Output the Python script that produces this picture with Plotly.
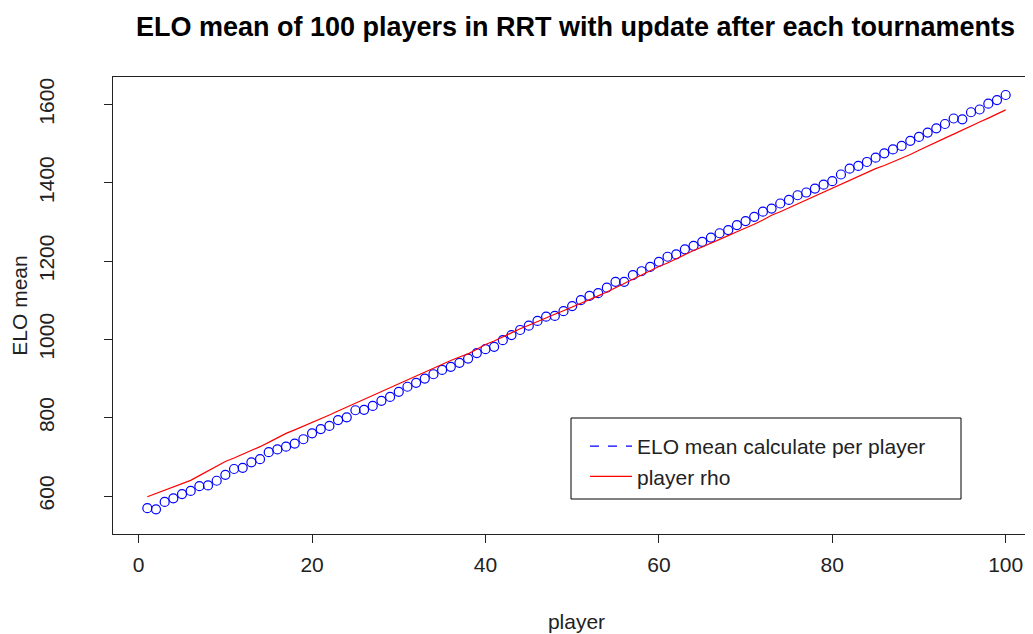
import plotly.graph_objects as go

players = list(range(1, 101))

elo_mean = [
    569, 566, 585, 594, 605, 613, 625, 627, 639, 654,
    669, 672, 686, 694, 712, 719, 726, 734, 745, 760,
    771, 779, 794, 801, 819, 820, 830, 843, 853, 866,
    879, 889, 900, 911, 922, 930, 940, 951, 965, 975,
    981, 998, 1011, 1024, 1035, 1047, 1058, 1060, 1072, 1085,
    1100, 1111, 1118, 1132, 1147, 1147, 1164, 1174, 1185, 1198,
    1211, 1217, 1230, 1239, 1249, 1260, 1271, 1279, 1292, 1302,
    1313, 1326, 1334, 1347, 1356, 1368, 1375, 1385, 1395, 1404,
    1421, 1436, 1443, 1453, 1464, 1475, 1485, 1494, 1507, 1517,
    1528, 1539, 1550, 1564, 1562, 1580, 1587, 1602, 1611, 1624,
]

player_rho = [
    598, 606, 614, 623, 631, 640, 652, 664, 676, 688,
    697, 706, 715, 726, 737, 749, 760, 769, 778, 788,
    797, 807, 817, 827, 836, 846, 857, 866, 876, 887,
    896, 906, 916, 927, 937, 946, 955, 963, 975, 987,
    996, 1007, 1017, 1027, 1036, 1046, 1055, 1064, 1073, 1082,
    1092, 1101, 1111, 1121, 1132, 1143, 1154, 1166, 1176, 1186,
    1195, 1206, 1217, 1227, 1236, 1245, 1255, 1265, 1275, 1284,
    1294, 1305, 1317, 1326, 1336, 1346, 1356, 1368, 1378, 1387,
    1396, 1406, 1416, 1427, 1436, 1444, 1453, 1463, 1472, 1483,
    1494, 1505, 1514, 1524, 1535, 1545, 1555, 1565, 1575, 1586,
]

x_ticks = [0, 20, 40, 60, 80, 100]
y_ticks = [600, 800, 1000, 1200, 1400, 1600]

title_text = "ELO mean of 100 players in RRT with update after each tournaments"
legend_names = ["ELO mean calculate per player", "player rho"]

FONT = "Liberation Sans, Arial, sans-serif"
FS = 21

# the page body adds an 8px offset; figure coordinates below account for it
W, H = 1033, 634
L, R, T, B = 105, 1, 69, 108
PW, PH = W - L - R, H - T - B


def px_x(v):
    return (v - L) / PW


def px_y(v):
    return (H - B - v) / PH


fig = go.Figure()
fig.add_trace(go.Scatter(
    x=players, y=elo_mean, mode="markers", showlegend=False,
    marker=dict(symbol="circle-open", size=9, color="#0000FF", line=dict(width=1.2, color="#0000FF")),
))
fig.add_trace(go.Scatter(
    x=players, y=player_rho, mode="lines", showlegend=False,
    line=dict(color="#FF0000", width=1.2),
))
# legend entries (as in the original legend: dashed blue, solid red)
fig.add_trace(go.Scatter(
    x=[None], y=[None], mode="lines", name=legend_names[0],
    line=dict(color="#0000FF", width=1.2, dash="dash"),
))
fig.add_trace(go.Scatter(
    x=[None], y=[None], mode="lines", name=legend_names[1],
    line=dict(color="#FF0000", width=1.2),
))

fig.update_layout(
    width=W, height=H,
    margin=dict(l=L, r=R, t=T, b=B, autoexpand=False),
    paper_bgcolor="white", plot_bgcolor="white",
    font=dict(family=FONT, size=FS, color="#222222"),
    title=dict(text="<b>" + title_text + "</b>", x=567.5 / W, xref="container", xanchor="center",
               y=1 - 19 / H, yref="container", yanchor="middle",
               font=dict(family=FONT, size=27, color="#000000")),
    showlegend=True,
    legend=dict(x=px_x(565), xanchor="left", y=px_y(418), yanchor="top",
                borderwidth=0, bgcolor="rgba(0,0,0,0)",
                font=dict(family=FONT, size=FS, color="#222222"),
                indentation=12, itemwidth=42, tracegroupgap=0),
    shapes=[dict(type="rect", xref="paper", yref="paper",
                 x0=px_x(563), x1=px_x(953), y0=px_y(491), y1=px_y(410),
                 line=dict(color="#000000", width=1), fillcolor="rgba(0,0,0,0)")],
    xaxis=dict(range=[-2.96, 103.96], tickvals=x_ticks, ticktext=[str(v) for v in x_ticks],
               showgrid=False, zeroline=False, showline=True, linecolor="#222222", linewidth=1,
               mirror=True, ticks="outside", ticklen=8, tickcolor="#222222",
               ticklabelstandoff=4, automargin=False,
               title=dict(text="player", standoff=39, font=dict(family=FONT, size=FS))),
    yaxis=dict(range=[503, 1670], tickvals=y_ticks, ticktext=[str(v) for v in y_ticks],
               showgrid=False, zeroline=False, showline=True, linecolor="#222222", linewidth=1,
               mirror=False, ticks="outside", ticklen=8, tickcolor="#222222",
               tickangle=-90, ticklabelstandoff=42, automargin=False,
               title=dict(text="ELO mean", standoff=6, font=dict(family=FONT, size=FS))),
)

fig.write_html("out.html")
